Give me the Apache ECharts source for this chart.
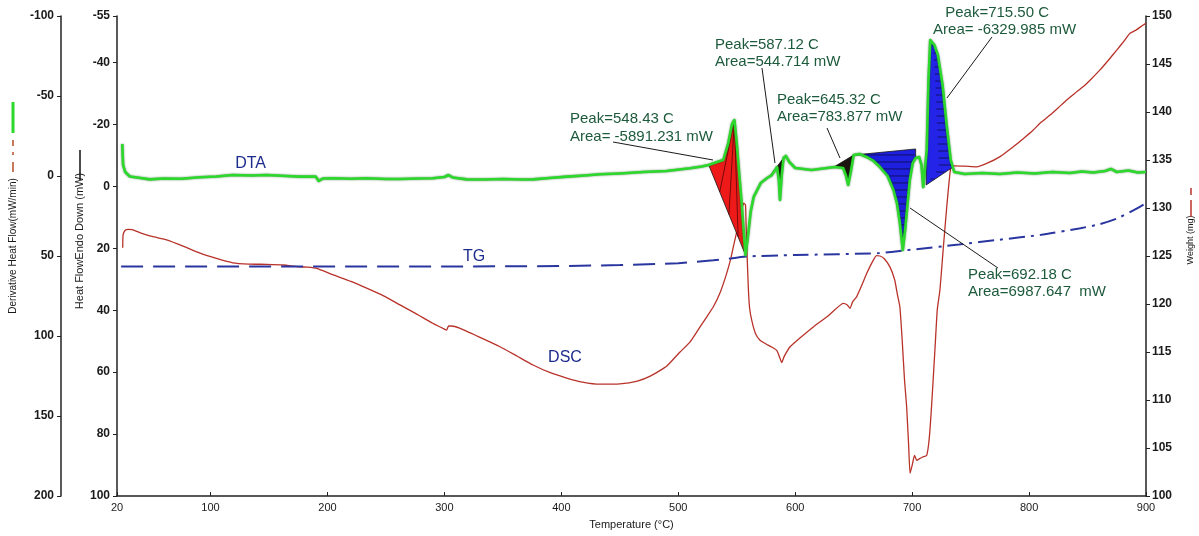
<!DOCTYPE html>
<html>
<head>
<meta charset="utf-8">
<script src="https://cdn.jsdelivr.net/npm/echarts@6/dist/echarts.min.js"></script>
<style>
  html, body { margin: 0; padding: 0; background: #ffffff; }
  #chart { width: 1199px; height: 536px; }
</style>
</head>
<body>
<div id="chart"></div>
<script>
// ---- DTA trace: temperature (°C) and derivative heat flow (mW/min) ----
const dtaTemps = [24.5, 25.2, 27, 31, 40, 48, 60, 75, 91, 105, 119, 135, 148, 165, 176, 190, 192.5, 196, 205, 220,
  233, 250, 262, 278, 290, 300, 303.5, 307, 319, 335, 350, 365, 376, 390, 405, 420, 433, 450, 470, 490,
  510, 520, 526, 532, 538.5, 542.8, 546, 548, 550, 552, 554, 556, 557.5, 559.5, 562, 564.5, 570.5, 576, 580, 584.5,
  586, 587, 588.5, 590, 592, 595, 600, 614, 624, 634, 641, 643.5, 645.3, 647.5, 650, 655, 661, 667, 672.5, 679,
  684, 687, 689.5, 692, 694, 696, 698, 700.5, 703, 706, 708, 709.5, 711, 712.5, 714, 715.5, 717, 719, 722, 726,
  729.5, 733, 736, 745, 760, 775, 790, 805, 820, 835, 845, 855, 865, 870, 875, 885, 893, 900];
const dtaValues = [-20, -6.9, -2.5, 0.3, 1.25, 2.1, 1.6, 1.7, 0.8, 0.3, -0.6, -0.3, -0.6, 0, 0.4, 0.4, 3.1, 1.6, 1.4, 1.75,
  1.4, 1.9, 1.9, 1.6, 1.4, 0.6, -0.6, 0.9, 2.1, 2.2, 1.9, 2.2, 2.1, 1.25, 0.4, -0.3, -1.1, -1.6, -2.5, -3.1,
  -4.8, -5.9, -6.9, -8.4, -10, -20.6, -32.5, -35, -20.6, -2.5, 15, 35, 49.4, 38, 22, 13.1, 4.4, 1.25, -0.6, -5.6,
  2.5, 15, -0.6, -11.25, -12.5, -8.75, -5, -3.75, -4.7, -5.6, -5, 0, 5.6, -2.5, -13.1, -13.75, -11.9, -9.4, -5.6, 0,
  8.75, 16.9, 29.4, 46.25, 33.75, 18.1, 2.5, -8.1, -11.25, -11.9, -6.9, 6.9, 6.25, -16.25, -60, -85, -83.75, -81.9, -75.6, -56.9,
  -31.9, -10, -2.5, -1.25, -1.9, -1.25, -2.2, -1.6, -2.5, -1.9, -2.8, -2.2, -3.1, -4.4, -2.5, -3.4, -2.2, -2.5];

// ---- DSC trace: heat flow (mW, endo down) ----
const dscTemps = [24.9, 25.2, 27, 29.7, 33, 40, 50, 62.5, 77, 91, 105, 119, 133, 148, 162, 176.5, 183, 190.8, 205, 220,
  233.5, 248, 262, 276, 290, 300, 302, 303.5, 306, 313, 330, 347.5, 362, 375.8, 390, 404.6, 418, 433, 450, 465,
  476, 490, 501.5, 510, 518.6, 525, 530, 536, 541.4, 545, 548, 551, 553.5, 556, 557.5, 558, 559, 560, 561, 562.8,
  566, 569.9, 575, 580, 584.2, 586.5, 588.5, 590.5, 595.6, 603, 615.5, 628, 641.1, 644.5, 646.9, 649, 652.6, 657, 661.2, 666,
  669.5, 672.5, 676, 681, 685, 687.5, 689.5, 691.5, 693.5, 695.3, 697, 698.2, 700, 702, 704, 706.5, 709, 712.4, 714, 715.3,
  717, 719.5, 721.5, 723.8, 726.5, 729.6, 731.5, 733, 735.5, 745, 755.2, 763.8, 775.2, 786.5, 795, 803.6, 810, 817.9,
  825, 832.2, 839, 846.4, 853, 860.7, 868, 875, 881, 886.3, 892, 897.7, 900];
const dscValues = [19.8, 15.7, 14.2, 13.9, 14.0, 15.0, 16.2, 17.3, 19.4, 21.6, 23.3, 24.7, 25.1, 25.2, 25.4, 26.0, 26.1, 26.5, 28.6, 30.7,
  32.9, 35.4, 38.3, 41.2, 44.2, 46.1, 46.4, 45.1, 45.1, 45.8, 48.7, 51.8, 54.8, 57.7, 60.1, 61.9, 63.2, 63.9, 63.8, 62.9,
  61.3, 58.1, 53.5, 50.3, 45.4, 41.8, 38.9, 34.1, 28.1, 23.2, 18.0, 13.0, 8.9, 5.4, 6.0, 12.5, 23.8, 33.5, 39.3, 43.2,
  47.5, 49.7, 50.9, 51.9, 53.0, 55.0, 56.9, 55.0, 51.8, 49.3, 45.4, 41.9, 37.8, 38.3, 39.4, 37.4, 35.6, 31.9, 28.1, 24.4,
  22.4, 22.5, 23.3, 26.0, 30.1, 35.1, 38.9, 49.7, 62.6, 71.2, 83.6, 92.7, 90.1, 86.9, 88.5, 87.9, 87.4, 86.9, 83.6, 78.4,
  68.7, 52.7, 39.8, 33.4, 20.6, 6.6, -1.1, -5.9, -6.6, -6.5, -6.3, -7.4, -9.6, -12.8, -15.4, -18.2, -20.6, -23.0,
  -25.4, -27.9, -30.0, -32.2, -34.6, -37.6, -40.8, -44.0, -46.8, -49.4, -50.6, -52.1, -52.6];

// ---- TG trace: sample weight (mg) ----
const tgTemps = [23.5, 100, 200, 300, 400, 450, 500, 530, 545, 558, 600, 672, 695, 740, 775, 810, 844, 860, 875, 890, 900];
const tgWeights = [123.9, 123.9, 123.9, 123.9, 123.95, 124.05, 124.25, 124.55, 124.75, 124.95, 125.1, 125.3, 125.6, 126.2, 126.7, 127.2, 127.9, 128.3, 128.9, 129.8, 130.5];
const tgDashEnd = 545; // the recorder switches from dashed to dash-dot here

// ---- axis ticks ----
const tempTicks = [20, 100, 200, 300, 400, 500, 600, 700, 800, 900];
const heatFlowTicks = [-55, -40, -20, 0, 20, 40, 60, 80, 100];

// ---- integrated peaks: [start °C, baseline at start, end °C, baseline at end] on the DTA scale ----
const peakBaselines = [
  [526, -6.9, 557.5, 49.4],
  [579, -0.6, 590, -11.25],
  [633, -5.6, 650, -13.1],
  [650, -13.1, 703, -16.9],
  [712, 5.6, 735, -5.6]
];
const peakTexts = ['Peak=548.43 C', 'Peak=587.12 C', 'Peak=645.32 C', 'Peak=715.50 C', 'Peak=692.18 C'];
const areaTexts = ['Area= -5891.231 mW', 'Area=544.714 mW', 'Area=783.877 mW', 'Area= -6329.985 mW', 'Area=6987.647  mW'];
// annotation anchors (°C, DTA scale): text left edges and leader lines
const peakTextAt = [[407.4, -35.6], [531.4, -81.9], [584.4, -47.5], [728.3, -101.9], [747.8, 61.9]];
const areaTextAt = [[407.4, -24.4], [531.4, -71.25], [584.4, -36.9], [717.9, -91.25], [747.8, 72.5]];
const leaderFrom = [[444.2, -21.25], [571.6, -67.5], [627.2, -30], [768.3, -86.9], [698.2, 20]];
const leaderTo = [[529.7, -10], [582.7, -8.1], [638.3, -11.25], [729.8, -48.75], [773.4, 57.5]];

// curve captions
const curveNames = ['DTA', 'TG', 'DSC'];
const curveNameAt = [[134.2, -7.5], [325.3, 50.6], [403.1, 113.75]];

// ---- look ----
const FONT = "'Liberation Sans', Arial, sans-serif";
const peakLook = [
  { fill: '#ee1a1a', hatch: 'fan' },
  { fill: '#1c1410', hatch: null },
  { fill: '#1c1410', hatch: null },
  { fill: '#1f1fe0', hatch: 'rows' },
  { fill: '#2424e8', hatch: 'halfRows' }
];

const zip = (a, b) => a.map((v, i) => [v, b[i]]);

function dtaAt(t) {
  for (let k = 1; k < dtaTemps.length; k++) {
    if (t <= dtaTemps[k]) {
      const f = (t - dtaTemps[k - 1]) / (dtaTemps[k] - dtaTemps[k - 1]);
      return dtaValues[k - 1] + f * (dtaValues[k] - dtaValues[k - 1]);
    }
  }
  return dtaValues[dtaValues.length - 1];
}

function rowsThrough(pts, half) {
  const ys = pts.map(p => p[1]);
  const top = Math.min(...ys), bottom = Math.max(...ys);
  const out = [];
  for (let y = top + 6; y < bottom - 3; y += 7) {
    const xs = [];
    for (let i = 0; i < pts.length; i++) {
      const a = pts[i], b = pts[(i + 1) % pts.length];
      if ((a[1] - y) * (b[1] - y) <= 0 && a[1] !== b[1]) {
        xs.push(a[0] + (y - a[1]) / (b[1] - a[1]) * (b[0] - a[0]));
      }
    }
    if (xs.length < 2) continue;
    const x0 = Math.min(...xs), x1 = Math.max(...xs);
    if (x1 - x0 < 3) continue;
    out.push({ type: 'line', shape: { x1: half ? (x0 + x1) / 2 : x0 + 1, y1: y, x2: x1 - 1, y2: y },
      style: { stroke: '#0a0a30', lineWidth: 1, opacity: 0.7 } });
  }
  return out;
}

function renderPeak(params, api) {
  const i = params.dataIndex;
  const [t1, b1, t2, b2] = peakBaselines[i];
  const a = api.coord([t1, b1]), b = api.coord([t2, b2]);
  const pts = [a, b, api.coord([t2, dtaAt(t2)])];
  for (let k = dtaTemps.length - 1; k >= 0; k--) {
    if (dtaTemps[k] > t1 && dtaTemps[k] < t2) pts.push(api.coord([dtaTemps[k], dtaValues[k]]));
  }
  pts.push(api.coord([t1, dtaAt(t1)]));
  const look = peakLook[i];
  const children = [{ type: 'polygon', shape: { points: pts },
    style: { fill: look.fill, stroke: '#151515', lineWidth: 0.8 } }];
  if (look.hatch === 'fan') {
    let apex = pts[0];
    pts.forEach(p => { if (p[1] < apex[1]) apex = p; });
    [0.3, 0.55, 0.8].forEach(f => {
      children.push({ type: 'line',
        shape: { x1: apex[0], y1: apex[1], x2: a[0] + f * (b[0] - a[0]), y2: a[1] + f * (b[1] - a[1]) },
        style: { stroke: '#4a0505', lineWidth: 1, opacity: 0.75 } });
    });
  } else if (look.hatch === 'rows' || look.hatch === 'halfRows') {
    children.push(...rowsThrough(pts, look.hatch === 'halfRows'));
  }
  return { type: 'group', children };
}

function renderLeader(params, api) {
  const p = api.coord(leaderFrom[params.dataIndex]);
  const q = api.coord(leaderTo[params.dataIndex]);
  return { type: 'line', shape: { x1: p[0], y1: p[1], x2: q[0], y2: q[1] },
    style: { stroke: '#1a1a1a', lineWidth: 1 } };
}

const noteItems = [];
peakTexts.forEach((t, i) => {
  noteItems.push({ value: peakTextAt[i], text: t, kind: 'peak' });
  noteItems.push({ value: areaTextAt[i], text: areaTexts[i], kind: 'peak' });
});
curveNames.forEach((t, i) => noteItems.push({ value: curveNameAt[i], text: t, kind: 'curve' }));

function renderNote(params, api) {
  const item = noteItems[params.dataIndex];
  const p = api.coord([api.value(0), api.value(1)]);
  const isCurve = item.kind === 'curve';
  return { type: 'text', x: p[0], y: p[1],
    style: { text: item.text, fill: isCurve ? '#1d2b8c' : '#1d5a3b',
      fontSize: isCurve ? 16 : 15, fontFamily: FONT,
      align: isCurve ? 'center' : 'left', verticalAlign: 'middle' } };
}

const axisLineStyle = { color: '#222', width: 1.5 };
const tickLabel = { color: '#1a1a1a', fontSize: 12, fontWeight: 'bold', fontFamily: FONT };

const chart = echarts.init(document.getElementById('chart'));
chart.setOption({
  animation: false,
  backgroundColor: '#ffffff',
  grid: { left: 117, right: 53, top: 16, bottom: 40, containLabel: false },
  xAxis: {
    type: 'value', min: 20, max: 900,
    axisLine: { show: true, onZero: false, lineStyle: axisLineStyle },
    axisTick: { show: true, inside: true, length: 4, customValues: tempTicks, lineStyle: { color: '#222' } },
    axisLabel: { customValues: tempTicks, color: '#1a1a1a', fontSize: 11, fontFamily: FONT, margin: 6 },
    splitLine: { show: false },
    name: 'Temperature (°C)', nameLocation: 'middle', nameGap: 23,
    nameTextStyle: { color: '#1a1a1a', fontSize: 11, fontFamily: FONT }
  },
  yAxis: [
    { // heat flow, endo down
      type: 'value', position: 'left', min: -55, max: 100, inverse: true,
      axisLine: { show: true, lineStyle: axisLineStyle },
      axisTick: { show: true, length: 4, customValues: heatFlowTicks, lineStyle: { color: '#222' } },
      axisLabel: Object.assign({ customValues: heatFlowTicks, margin: 7 }, tickLabel),
      splitLine: { show: false }
    },
    { // derivative heat flow
      type: 'value', position: 'left', offset: 56, min: -100, max: 200, interval: 50, inverse: true,
      axisLine: { show: true, lineStyle: axisLineStyle },
      axisTick: { show: true, length: 4, lineStyle: { color: '#222' } },
      axisLabel: Object.assign({ margin: 7 }, tickLabel),
      splitLine: { show: false }
    },
    { // weight
      type: 'value', position: 'right', min: 100, max: 150, interval: 5,
      axisLine: { show: true, lineStyle: axisLineStyle },
      axisTick: { show: true, length: 4, lineStyle: { color: '#222' } },
      axisLabel: Object.assign({ margin: 6 }, tickLabel),
      splitLine: { show: false }
    }
  ],
  series: [
    { name: 'DSC', type: 'line', yAxisIndex: 0, data: zip(dscTemps, dscValues), showSymbol: false,
      smooth: 0.15,
      lineStyle: { color: '#b8322a', width: 1.3, join: 'round' }, z: 2 },
    { name: 'TG', type: 'line', yAxisIndex: 2, showSymbol: false, z: 3,
      data: zip(tgTemps, tgWeights).filter(p => p[0] <= tgDashEnd),
      lineStyle: { color: '#2a36a0', width: 2, type: [22, 10] } },
    { name: 'TG', type: 'line', yAxisIndex: 2, showSymbol: false, z: 3, smooth: 0.2,
      data: zip(tgTemps, tgWeights).filter(p => p[0] >= tgDashEnd),
      lineStyle: { color: '#2a36a0', width: 2, type: [16, 6, 3, 6] } },
    { name: 'peaks', type: 'custom', yAxisIndex: 1, z: 4, renderItem: renderPeak,
      data: peakBaselines, encode: { x: [0, 2], y: [1, 3] } },
    { name: 'DTA', type: 'line', yAxisIndex: 1, data: zip(dtaTemps, dtaValues), showSymbol: false, z: 5,
      lineStyle: { color: '#2bd82b', width: 2.6, join: 'round', shadowColor: 'rgba(0,70,0,0.6)', shadowBlur: 2 } },
    { name: 'leaders', type: 'custom', yAxisIndex: 1, z: 6, renderItem: renderLeader,
      data: leaderFrom.map((p, i) => [p[0], p[1], leaderTo[i][0], leaderTo[i][1]]),
      encode: { x: [0, 2], y: [1, 3] } },
    { name: 'notes', type: 'custom', yAxisIndex: 1, z: 7, renderItem: renderNote,
      data: noteItems.map(n => n.value), encode: { x: 0, y: 1 } }
  ],
  graphic: [
    { type: 'text', x: 13, y: 246, rotation: Math.PI / 2,
      style: { text: 'Derivative Heat Flow(mW/min)', fill: '#1a1a1a', fontSize: 10, fontFamily: FONT,
        align: 'center', verticalAlign: 'middle' } },
    { type: 'line', shape: { x1: 13, y1: 102, x2: 13, y2: 133 }, style: { stroke: '#2bd82b', lineWidth: 3 } },
    { type: 'line', shape: { x1: 13, y1: 140, x2: 13, y2: 146 }, style: { stroke: '#c9785c', lineWidth: 2 } },
    { type: 'line', shape: { x1: 13, y1: 152, x2: 13, y2: 155 }, style: { stroke: '#c9785c', lineWidth: 2 } },
    { type: 'line', shape: { x1: 13, y1: 162, x2: 13, y2: 172 }, style: { stroke: '#c9785c', lineWidth: 2 } },
    { type: 'text', x: 80, y: 241, rotation: Math.PI / 2,
      style: { text: 'Heat FlowEndo Down (mW)', fill: '#1a1a1a', fontSize: 11, fontFamily: FONT,
        align: 'center', verticalAlign: 'middle' } },
    { type: 'line', shape: { x1: 80, y1: 150, x2: 80, y2: 180 }, style: { stroke: '#111', lineWidth: 1.5 } },
    { type: 'text', x: 1191, y: 240, rotation: Math.PI / 2,
      style: { text: 'Weight (mg)', fill: '#1a1a1a', fontSize: 9, fontFamily: FONT,
        align: 'center', verticalAlign: 'middle' } },
    { type: 'line', shape: { x1: 1191, y1: 188, x2: 1191, y2: 195 }, style: { stroke: '#b8322a', lineWidth: 1.5 } },
    { type: 'line', shape: { x1: 1191, y1: 200, x2: 1191, y2: 217 }, style: { stroke: '#b8322a', lineWidth: 1.5 } }
  ]
});
</script>
</body>
</html>
